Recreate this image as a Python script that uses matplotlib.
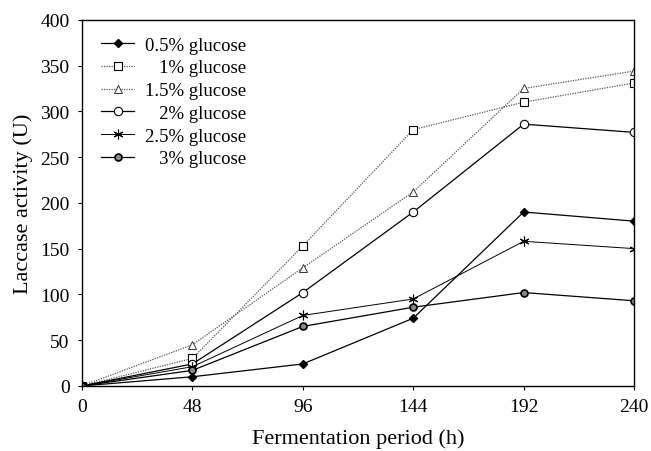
import matplotlib
matplotlib.use("Agg")
import matplotlib.pyplot as plt

## data
hours = [0, 48, 96, 144, 192, 240]
g05 = [0, 10, 24, 74, 190, 180]
g1 = [0, 30, 153, 280, 310, 331]
g15 = [0, 45, 129, 212, 325, 344]
g2 = [0, 24, 102, 190, 286, 277]
g25 = [0, 21, 77, 95, 158, 150]
g3 = [0, 17, 65, 86, 102, 93]
labels = ['0.5% glucose', '\u2007\u20081% glucose', '1.5% glucose',
          '\u2007\u20082% glucose', '2.5% glucose', '\u2007\u20083% glucose']
xticks = [0, 48, 96, 144, 192, 240]
yticks = [0, 50, 100, 150, 200, 250, 300, 350, 400]

plt.rcParams['font.family'] = ['Liberation Serif', 'DejaVu Serif']

fig = plt.figure(figsize=(6.51, 4.52), dpi=100)
ax = fig.add_axes([0.126, 0.144, 0.848, 0.810])

lw = 0.9
ax.plot(hours, g05, color='black', lw=lw, marker='D', ms=4, mfc='black', label=labels[0])
ax.plot(hours, g1, color='#555555', lw=lw, ls=(0, (1, 1)), marker='s', ms=5.5,
        mfc='white', mec='black', mew=0.8, label=labels[1])
ax.plot(hours, g15, color='#555555', lw=lw, ls=(0, (1, 1)), marker='^', ms=6,
        mfc='white', mec='#333333', mew=0.7, label=labels[2])
ax.plot(hours, g2, color='black', lw=lw, marker='o', ms=6, mfc='white',
        mec='black', mew=0.8, label=labels[3])
ax.plot(hours, g25, color='black', lw=0.7, marker=(6, 2, 0), ms=7, mew=0.8,
        mec='black', label=labels[4])
ax.plot(hours, g3, color='black', lw=lw, marker='o', ms=5, mfc='#888888',
        mec='black', mew=1.2, label=labels[5])

ax.set_xlim(0, 240)
ax.set_ylim(0, 400)
ax.set_xticks(xticks)
ax.set_yticks(yticks)
ax.tick_params(direction='out', length=3, width=0.8, labelsize=14, pad=6)
for sp in ax.spines.values():
    sp.set_linewidth(1.0)

ax.set_xlabel('Fermentation period (h)', fontsize=16, labelpad=9)
ax.set_ylabel('Laccase activity (U)', fontsize=16, labelpad=5)

leg = ax.legend(loc='upper left', frameon=False, fontsize=13.5, handlelength=1.8,
                labelspacing=0.3, handletextpad=0.55, borderaxespad=0.3,
                bbox_to_anchor=(0.01, 0.99))

fig.savefig('out.png', dpi=100)
